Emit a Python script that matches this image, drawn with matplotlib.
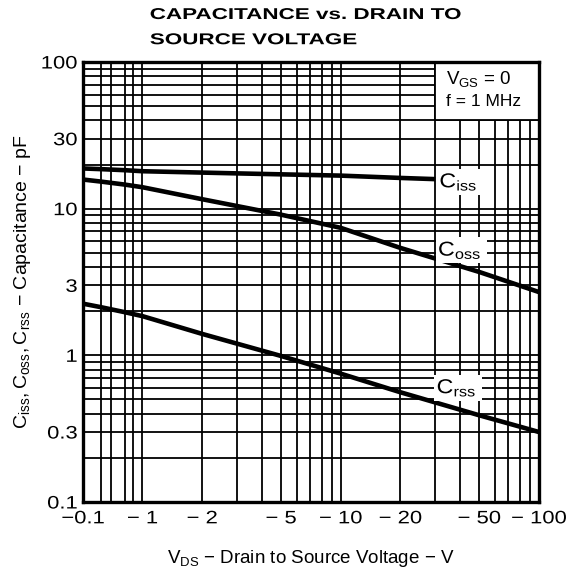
import numpy as np
import matplotlib
matplotlib.use("Agg")
import matplotlib.pyplot as plt
from matplotlib.patches import Rectangle
from matplotlib.transforms import Affine2D
from matplotlib.patheffects import AbstractPathEffect
from matplotlib.ticker import FixedLocator, FixedFormatter, NullFormatter

plt.rcParams['font.family'] = ['Liberation Sans', 'DejaVu Sans']
plt.rcParams['mathtext.fontset'] = 'custom'
plt.rcParams['mathtext.rm'] = 'Liberation Sans'
plt.rcParams['mathtext.it'] = 'Liberation Sans:italic'
plt.rcParams['mathtext.bf'] = 'Liberation Sans:bold'

# ---- data (|VDS| in volts, capacitance in pF) ----
vds_ciss = [0.1, 0.2, 0.5, 1, 3, 10, 20, 30]
ciss = [18.8, 18.6, 18.3, 18.0, 17.4, 16.8, 16.2, 15.9]

vds_coss = [0.1, 0.2, 0.5, 1, 2, 5, 10, 20, 50, 100]
coss = [15.8, 15.3, 14.6, 14.0, 11.6, 9.1, 7.4, 5.4, 3.7, 2.7]

vds_crss = [0.1, 0.2, 0.5, 1, 2, 5, 10, 20, 50, 100]
crss = [2.25, 2.13, 1.97, 1.85, 1.40, 0.99, 0.75, 0.56, 0.39, 0.30]

x_ticks = [0.1, 1, 2, 5, 10, 20, 50, 100]
x_ticklabels = ['\u22120.1', '\u2212 1', '\u2212 2', '\u2212 5', '\u2212 10', '\u2212 20', '\u2212 50', '\u2212 100']
x_minor = [0.2, 0.3, 0.5, 0.7, 3, 4, 6, 7, 8, 9, 30, 40, 60, 70, 80, 90]
y_ticks = [0.1, 0.3, 1, 3, 10, 30, 100]
y_ticklabels = ['0.1', '0.3', '1', '3', '10', '30', '100']
y_minor = [0.2, 0.4, 0.5, 0.6, 0.7, 0.8, 0.9, 2, 4, 5, 6, 7, 8, 9, 20, 40, 50, 60, 70, 80, 90]

# compressed first decade (0.1..1) on the voltage axis
K = 0.3
def fwd(x):
    x = np.asarray(x, dtype=float)
    with np.errstate(divide='ignore', invalid='ignore'):
        l = np.log10(np.where(x > 0, x, 1e-300))
    return np.where(l < 0, l * K, l)

def inv(t):
    t = np.asarray(t, dtype=float)
    return np.where(t < 0, 10 ** (t / K), 10 ** t)


class HStretch(AbstractPathEffect):
    """Horizontally widen a rendered path (extended-typeface look), anchored on its own extent."""
    def __init__(self, sx, anchor='center'):
        super().__init__()
        self._sx = sx
        self._anchor = anchor

    def draw_path(self, renderer, gc, tpath, affine, rgbFace=None):
        ext = tpath.get_extents(affine)
        x0 = {'left': ext.x0, 'right': ext.x1}.get(self._anchor, 0.5 * (ext.x0 + ext.x1))
        t = affine + Affine2D().translate(-x0, 0).scale(self._sx, 1).translate(x0, 0)
        renderer.draw_path(gc, tpath, t, rgbFace)


W, H = 574, 578
fig = plt.figure(figsize=(W / 100, H / 100), dpi=100)
ax = fig.add_axes([83 / W, 1 - 502 / H, 456 / W, 440 / H])
ax.set_xscale('function', functions=(fwd, inv))
ax.set_yscale('log')
ax.set_xlim(0.1, 100)
ax.set_ylim(0.1, 100)

ax.xaxis.set_major_locator(FixedLocator(x_ticks))
ax.xaxis.set_major_formatter(FixedFormatter(x_ticklabels))
ax.xaxis.set_minor_locator(FixedLocator(x_minor))
ax.xaxis.set_minor_formatter(NullFormatter())
ax.yaxis.set_major_locator(FixedLocator(y_ticks))
ax.yaxis.set_major_formatter(FixedFormatter(y_ticklabels))
ax.yaxis.set_minor_locator(FixedLocator(y_minor))
ax.yaxis.set_minor_formatter(NullFormatter())

ax.tick_params(which='both', length=0, labelsize=13, colors='black')
ax.tick_params(axis='x', pad=6)
ax.tick_params(axis='y', pad=4)
for lab in ax.get_xticklabels():
    lab.set_path_effects([HStretch(1.22, 'center')])
for lab in ax.get_yticklabels():
    lab.set_path_effects([HStretch(1.22, 'right')])

ax.grid(True, which='both', color='black', lw=1.3, zorder=1)
ax.set_axisbelow(True)
for s in ax.spines.values():
    s.set_linewidth(2.4)
    s.set_zorder(6)

lw = 3.3
ax.plot(vds_ciss, ciss, color='black', lw=lw, zorder=3, solid_capstyle='butt')
ax.plot(vds_coss, coss, color='black', lw=lw, zorder=3, solid_capstyle='butt')
ax.plot(vds_crss, crss, color='black', lw=lw, zorder=3, solid_capstyle='butt')

# condition box
ax.add_patch(Rectangle((30, 40), 70, 60, facecolor='white', edgecolor='black', lw=1.3, zorder=4))
ax.text(0.795, 0.962, r'$\mathrm{V_{GS}}$ = 0', transform=ax.transAxes, ha='left', va='center',
        fontsize=13.5, zorder=5)
ax.text(0.795, 0.910, 'f = 1 MHz', transform=ax.transAxes, ha='left', va='center', fontsize=12.5, zorder=5)

# curve labels on white backing; glyphs and backing widened together from the left edge
for xv, yv, s in [(31.5, 15.2, r'$\mathrm{C_{iss}}$'),
                  (31.0, 5.2, r'$\mathrm{C_{oss}}$'),
                  (30.5, 0.60, r'$\mathrm{C_{rss}}$')]:
    t = ax.text(xv, yv, s, fontsize=14.5, ha='left', va='center', zorder=5,
                path_effects=[HStretch(1.15, 'left')],
                bbox=dict(boxstyle='square,pad=0.12', facecolor='white', edgecolor='none'))
    t.get_bbox_patch().set_path_effects([HStretch(1.2, 'left')])

fig.text(150 / W, 1 - 7 / H, 'CAPACITANCE vs. DRAIN TO\nSOURCE VOLTAGE', ha='left', va='top',
         fontsize=11.3, fontweight='bold', linespacing=1.85,
         path_effects=[HStretch(1.43, 'left')])
ax.set_xlabel('$\\mathrm{V_{DS}}$ \u2212 Drain to Source Voltage \u2212 V', fontsize=13.5, labelpad=15)
ax.set_ylabel('$\\mathrm{C_{iss},C_{oss},C_{rss}}$ \u2212 Capacitance \u2212 pF', fontsize=14, labelpad=10)

fig.savefig('out.png', dpi=100, facecolor='white')
